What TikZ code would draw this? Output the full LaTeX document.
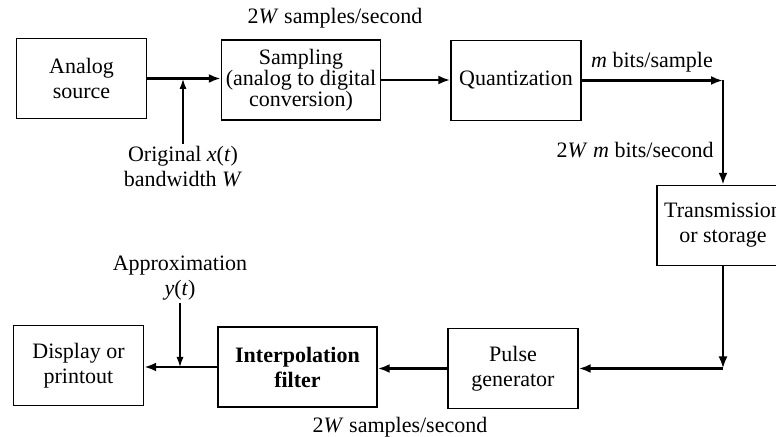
\documentclass[tikz,border=0pt]{standalone}
\usepackage{fontspec}
\setmainfont{Liberation Serif}
\usetikzlibrary{arrows.meta}

\begin{document}
\begin{tikzpicture}[x=0.5pt,y=-0.5pt,
  font=\fontsize{11}{12.5}\selectfont,
  block/.style={draw,line width=0.7pt,align=center,minimum width=65pt,minimum height=40pt,inner sep=0pt},
  wideblock/.style={block,minimum width=79.5pt,font=\fontsize{11}{10.5}\selectfont},
  link/.style={line width=1.2pt,-{Latex[length=6pt,width=4.5pt]}},
  tick/.style={line width=0.6pt,-{Latex[length=5pt,width=3.5pt]}},
  note/.style={align=center,inner sep=1pt}]

\useasboundingbox (0,0) rectangle (776,437);

\node[block] (source) at (81.5,78.5) {Analog\\source};
\node[wideblock] (sampler) at (301,80) {Sampling\\(analog to digital\\conversion)};
\node[block] (quant) at (516,80.5) {Quantization};
\node[block,minimum width=66pt] (trans) at (723,225.5) {Transmission\\or storage};
\node[block] (pulse) at (513,368.5) {Pulse\\generator};
\node[wideblock,font=\fontsize{11}{12.5}\selectfont\bfseries] (interp) at (297.5,367) {Interpolation\\filter};
\node[block] (display) at (78.5,365.5) {Display or\\printout};

\node[note] (rateA) at (335,18) {2\textit{W} samples/second};
\node[note] (bits) at (652,62) {\textit{m} bits/sample};
\node[note,anchor=east] (rateB) at (716,150) {2\textit{W} \textit{m} bits/second};
\node[note] (orig) at (183,166.5) {Original \textit{x}(\textit{t})\\bandwidth \textit{W}};
\node[note] (approx) at (180,278.5) {Approximation\\\textit{y}(\textit{t})};
\node[note] (rateC) at (400,427) {2\textit{W} samples/second};

\coordinate (xin) at (183,79);
\coordinate (yin) at (180,367);
\coordinate (c1) at (723,80.5);
\coordinate (c2) at (723,368.5);

\draw[link] (source.east) -- (source.east -| sampler.west);
\draw[link] (sampler.east) -- (sampler.east -| quant.west);
\draw[link] (quant.east) -- (c1);
\draw[link] (c1) -- (trans.north);
\draw[link] (trans.south) -- (c2);
\draw[link] (c2) -- (pulse.east);
\draw[link] (pulse.west) -- (pulse.west -| interp.east);
\draw[link] (interp.west) -- (interp.west -| display.east);

\draw[tick] (orig.north) -- (xin);
\draw[tick] (approx.south) -- (yin);

\end{tikzpicture}
\end{document}
